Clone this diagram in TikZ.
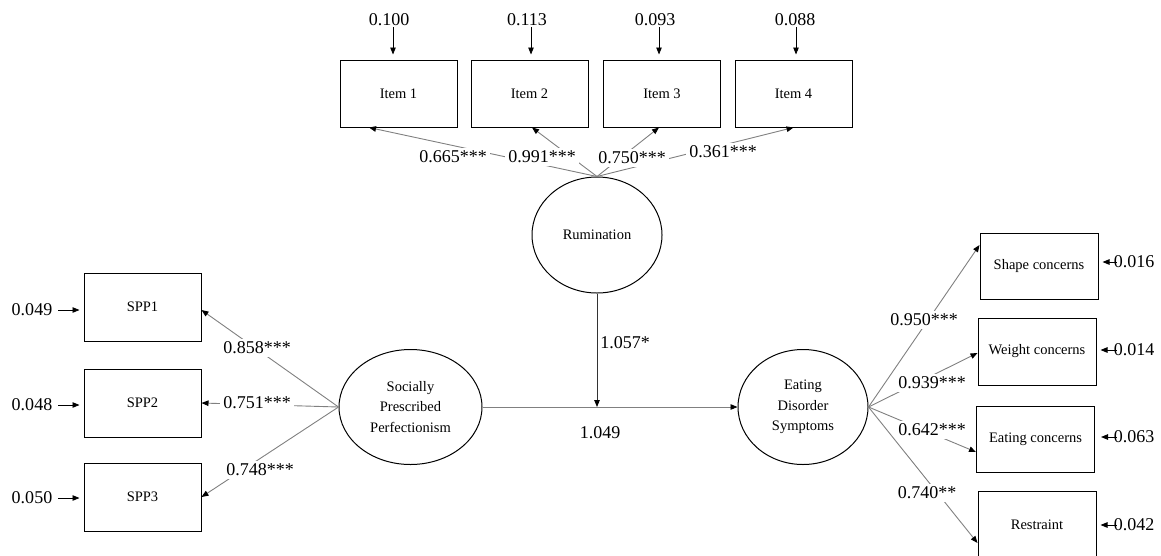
\documentclass[tikz,border=0pt]{standalone}
\usepackage{fontspec}
\setmainfont{Liberation Serif}
\usetikzlibrary{shapes.geometric,arrows.meta}
\begin{document}
\begin{tikzpicture}[x=1pt,y=-1pt,
 box/.style={draw=black,line width=1pt,minimum width=117pt,minimum height=67pt,inner sep=0pt,font=\fontsize{14.5}{17}\selectfont},
 lat/.style={draw=black,line width=1pt,ellipse,inner sep=0pt,align=center,font=\fontsize{14.5}{20.5}\selectfont},
 num/.style={font=\fontsize{18}{21}\selectfont,inner sep=1pt},
 lab/.style={num,fill=white,inner sep=3pt},
 tip/.style={-{Triangle[length=7pt,width=5.5pt,color=black]}},
 load/.style={draw=black!50,line width=0.9pt,tip},
 err/.style={draw=black,line width=0.9pt,tip}
]
\useasboundingbox (0,0) rectangle (1161,555);

% observed boxes
\node[box] (it1) at (398.5,93.5) {Item 1};
\node[box] (it2) at (529.5,93.5) {Item 2};
\node[box] (it3) at (662,93.5) {Item 3};
\node[box] (it4) at (793.5,93.5) {Item 4};
\node[box,minimum height=68pt] (s1) at (142.5,307) {SPP1};
\node[box,minimum height=68pt] (s2) at (142.5,403) {SPP2};
\node[box,minimum height=68pt] (s3) at (142.5,497) {SPP3};
\node[box,minimum width=118pt,minimum height=66pt] (sh) at (1039,266) {Shape concerns};
\node[box,minimum width=118pt] (wc) at (1037,351.5) {Weight concerns};
\node[box,minimum width=118pt,minimum height=66pt] (ec) at (1035.5,439) {Eating concerns};
\node[box,minimum width=118pt] (rs) at (1037,525) {Restraint};

% latent variables
\node[lat,minimum width=130pt,minimum height=116pt] (rum) at (597,235) {Rumination};
\node[lat,minimum width=143pt,minimum height=115pt] (spp) at (410.5,407) {Socially\\Prescribed\\Perfectionism};
\node[lat,minimum width=130pt,minimum height=115pt] (eds) at (803,407) {Eating\\Disorder\\Symptoms};

% error terms
\node[num] (e1) at (389,20) {0.100};
\node[num] (e2) at (527,20) {0.113};
\node[num] (e3) at (655,20) {0.093};
\node[num] (e4) at (795,20) {0.088};
\draw[err,shorten >=5pt] ([xshift=4pt]e1.south) -- ([xshift=4pt]e1.south |- it1.north);
\draw[err,shorten >=5pt] ([xshift=4pt]e2.south) -- ([xshift=4pt]e2.south |- it2.north);
\draw[err,shorten >=5pt] ([xshift=4pt]e3.south) -- ([xshift=4pt]e3.south |- it3.north);
\draw[err,shorten >=5pt] ([xshift=1pt]e4.south) -- ([xshift=1pt]e4.south |- it4.north);

\node[num] (l1) at (32,310) {0.049};
\node[num] (l2) at (32,405) {0.048};
\node[num] (l3) at (32,498) {0.050};
\draw[err,shorten <=5pt,shorten >=4pt] (l1.east) -- (l1.east -| s1.west);
\draw[err,shorten <=5pt,shorten >=4pt] (l2.east) -- (l2.east -| s2.west);
\draw[err,shorten <=5pt,shorten >=4pt] (l3.east) -- (l3.east -| s3.west);

\node[num,inner sep=0pt] (r1) at (1134,262) {0.016};
\node[num,inner sep=0pt] (r2) at (1134,350) {0.014};
\node[num,inner sep=0pt] (r3) at (1134,437) {0.063};
\node[num,inner sep=0pt] (r4) at (1134,525) {0.042};
\draw[err,shorten <=-3pt,shorten >=4pt] (r1.west) -- (r1.west -| sh.east);
\draw[err,shorten <=-3pt,shorten >=4pt] (r2.west) -- (r2.west -| wc.east);
\draw[err,shorten <=-3pt,shorten >=6pt] (r3.west) -- (r3.west -| ec.east);
\draw[err,shorten <=-3pt,shorten >=4pt] (r4.west) -- (r4.west -| rs.east);

% loadings
\draw[load] (rum.north) -- ([xshift=-29.5pt]it1.south);
\draw[load] (rum.north) -- ([xshift=2.5pt]it2.south);
\draw[load] (rum.north) -- ([xshift=-3pt]it3.south);
\draw[load] (rum.north) -- (it4.south);

\draw[load] (spp.west) -- ([yshift=-3pt]s1.east);
\draw[load] (spp.west) -- (s2.east);
\draw[load] (spp.west) -- (s3.east);

\draw[load] (eds.east) -- ([yshift=21pt]sh.west);
\draw[load] (eds.east) -- ([yshift=-1.5pt]wc.west);
\draw[load] (eds.east) -- ([yshift=-13pt]ec.west);
\draw[load] (eds.east) -- ([yshift=-18pt]rs.west);

% structural paths
\draw[load] (spp.east) -- (eds.west);
\coordinate (meet) at (rum.south |- spp.east);
\draw[err,draw=black!80] (rum.south) -- (meet);
\node[num] (b1) at (625,343) {1.057*};
\node[num] (b2) at (600,433) {1.049};

% loading labels
\node[lab] (a1) at (453,157) {0.665***};
\node[lab] (a2) at (542,157) {0.991***};
\node[lab] (a3) at (632,158) {0.750***};
\node[lab] (a4) at (723,152) {0.361***};
\node[lab] (p1) at (257,348) {0.858***};
\node[lab] (p2) at (257,403) {0.751***};
\node[lab] (p3) at (260,470) {0.748***};
\node[lab] (d1) at (924,320) {0.950***};
\node[lab] (d2) at (932,383) {0.939***};
\node[lab] (d3) at (932,430) {0.642***};
\node[lab] (d4) at (927,493) {0.740**};
\end{tikzpicture}
\end{document}
